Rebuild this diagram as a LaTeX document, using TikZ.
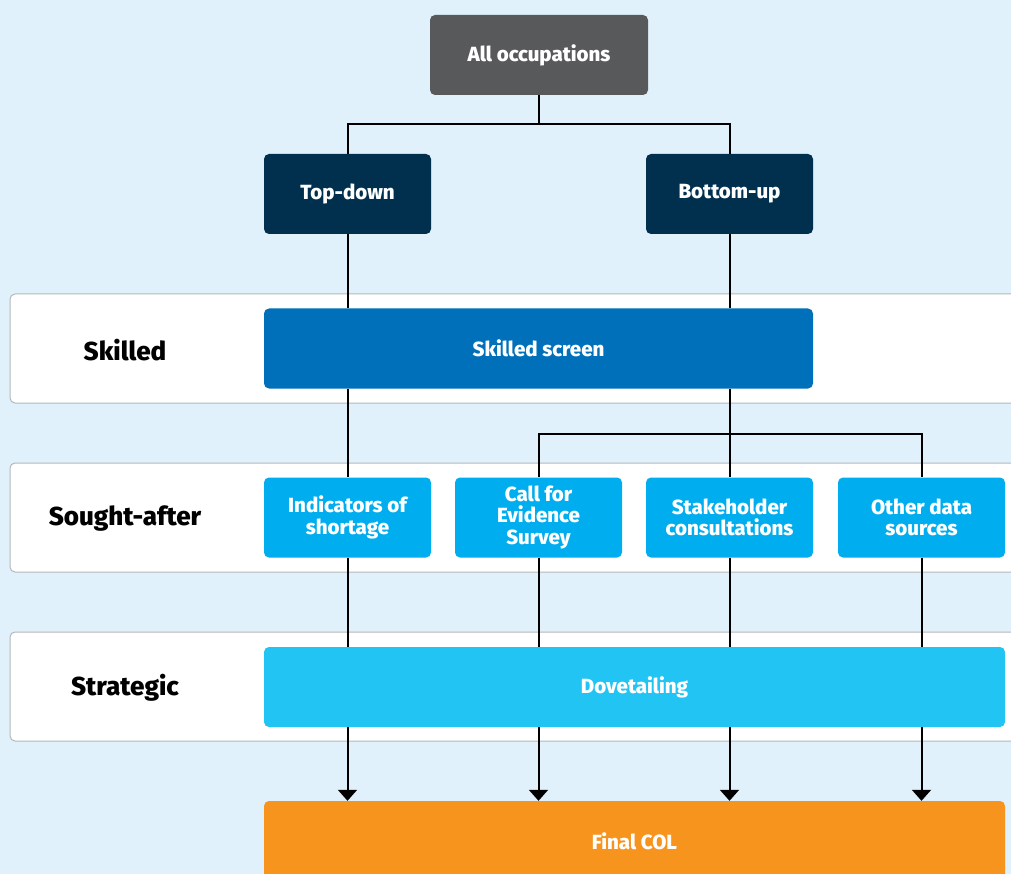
\documentclass[tikz,border=0pt]{standalone}
\usepackage{fontspec}
\setmainfont{Fira Sans}[BoldFont={Fira Sans ExtraBold}]
\usetikzlibrary{arrows.meta}
\definecolor{bgblue}{HTML}{E0F1FB}
\definecolor{occgray}{HTML}{58595B}
\definecolor{navy}{HTML}{00304E}
\definecolor{skillblue}{HTML}{0070BA}
\definecolor{soughtblue}{HTML}{00AEEF}
\definecolor{dovetail}{HTML}{22C4F3}
\definecolor{finalorange}{HTML}{F7941E}
\definecolor{bandline}{HTML}{B4B8BB}
\begin{document}
\begin{tikzpicture}[x=1pt, y=-1pt, >={Triangle[width=19pt,length=11pt]},
    box/.style={rounded corners=5pt, minimum height=80pt, inner sep=0pt, text=white,
        font=\fontsize{20.5}{21.5}\selectfont\bfseries, align=center},
    small/.style={box, minimum width=167pt},
    band/.style={draw=bandline, line width=1pt, fill=white, rounded corners=5pt},
    level/.style={font=\fontsize{26}{30}\selectfont\bfseries},
    link/.style={line width=2pt}]
\fill[bgblue] (0,0) rectangle (1011,874);
\useasboundingbox (0,0) rectangle (1011,874);

% bands
\draw[band] (10,294) rectangle (1025,403);
\draw[band] (10,463) rectangle (1025,572);
\draw[band] (10,632) rectangle (1025,741);
\node[level] (skilled) at (125,350) {Skilled};
\node[level] (sought) at (125,519) {Sought-after};
\node[level] (strategic) at (125,688) {Strategic};

% boxes
\node[box, fill=occgray, minimum width=218pt] (occ) at (539,55) {All occupations};
\node[small, fill=navy] (topdown) at (347.5,194) {Top-down};
\node[small, fill=navy] (bottomup) at (729.5,194) {Bottom-up};
\node[box, fill=skillblue, minimum width=549pt] (screen) at (538.5,348.5) {Skilled screen};
\node[small, fill=soughtblue] (ind) at (347.5,517.5) {Indicators of\\shortage};
\node[small, fill=soughtblue] (call) at (538.5,517.5) {Call for\\Evidence\\Survey};
\node[small, fill=soughtblue] (stake) at (729.5,517.5) {Stakeholder\\consultations};
\node[small, fill=soughtblue] (other) at (921.5,517.5) {Other data\\sources};
\node[box, fill=dovetail, minimum width=741pt] (dove) at (634.5,687) {Dovetailing};
\node[box, fill=finalorange, minimum width=741pt] (final) at (634.5,841) {Final COL};

\coordinate (split1) at (539,124);
\coordinate (split2) at (729.5,434);

% connectors
\draw[link] (occ.south) -- (split1) -| (topdown.north);
\draw[link] (split1) -| (bottomup.north);
\draw[link] (topdown.south) -- (topdown.south |- screen.north);
\draw[link] (bottomup.south) -- (bottomup.south |- screen.north);
\draw[link] (screen.south -| ind) -- (ind.north);
\draw[link] (screen.south -| stake) -- (stake.north);
\draw[link] (call.north) |- (split2) -| (other.north);
\foreach \n in {ind,call,stake,other}{
  \draw[link] (\n.south) -- (\n.south |- dove.north);
  \draw[link,->] (dove.south -| \n) -- (final.north -| \n);
}
\end{tikzpicture}
\end{document}
